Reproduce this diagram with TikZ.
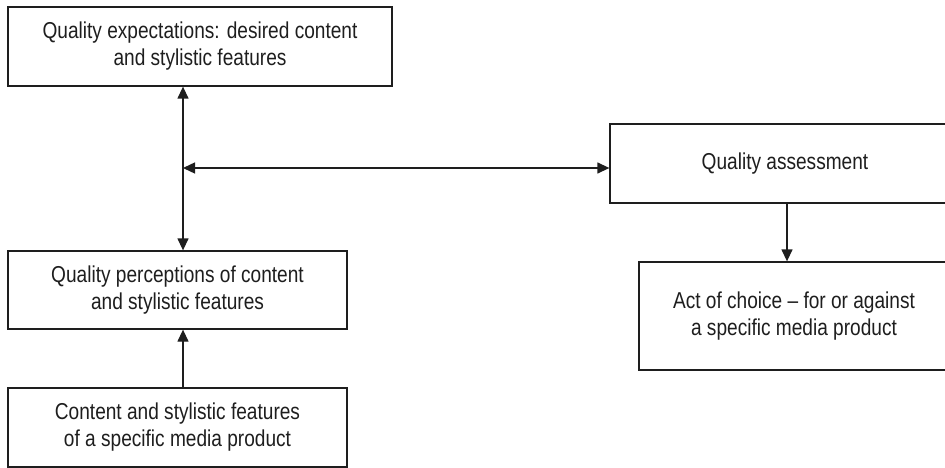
\documentclass[tikz,border=0pt]{standalone}
\usepackage{fontspec}
\setmainfont[FakeStretch=0.83]{Liberation Sans}
\usetikzlibrary{arrows.meta}
\definecolor{ink}{HTML}{1E1E1E}
\tikzset{
  box/.style={draw=ink, line width=1.3pt, rectangle, inner sep=0pt, align=center,
    text=ink, font=\fontsize{23}{27}\selectfont},
  link/.style={draw=ink, line width=1.3pt, -{Triangle[length=12pt,width=11pt]}},
  dlink/.style={draw=ink, line width=1.3pt, {Triangle[length=12pt,width=11pt]}-{Triangle[length=12pt,width=11pt]}}
}
\begin{document}
\begin{tikzpicture}[x=1pt,y=-1pt]
\useasboundingbox (0,0) rectangle (945,468);
\node[box, minimum width=384pt, minimum height=79pt] (exp) at (200,46.5)
  {Quality expectations: desired content\\and stylistic features};
\node[box, minimum width=339pt, minimum height=78pt] (perc) at (177.5,290)
  {Quality perceptions of content\\and stylistic features};
\node[box, minimum width=339pt, minimum height=79pt] (feat) at (177.5,427.5)
  {Content and stylistic features\\of a specific media product};
\node[box, minimum width=350pt, minimum height=79pt] (assess) at (785,163.5)
  {Quality assessment};
\node[box, minimum width=310pt, minimum height=108pt] (choice) at (794,316)
  {Act of choice -- for or against\\a specific media product};
\coordinate (vx) at (183,0);
\coordinate (jn) at (183,168);
\draw[dlink] (exp.south -| vx) -- (perc.north -| vx);
\draw[dlink] (jn) -- (jn -| assess.west);
\draw[link] (feat.north -| vx) -- (perc.south -| vx);
\coordinate (ax) at (787,0);
\draw[link] (assess.south -| ax) -- (choice.north -| ax);
\end{tikzpicture}
\end{document}
